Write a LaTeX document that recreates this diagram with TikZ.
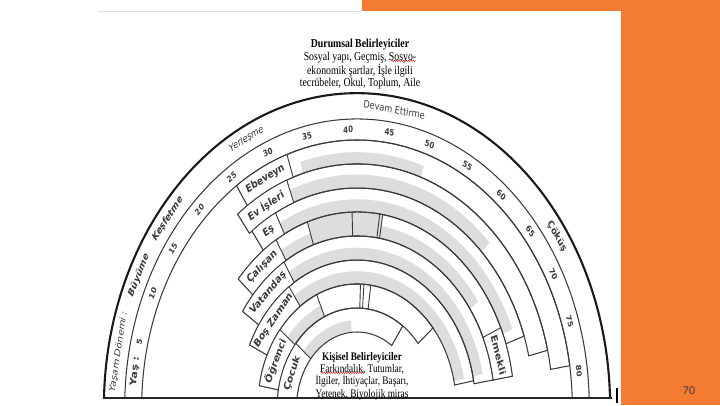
\documentclass[tikz,border=0pt]{standalone}
\usepackage{fontspec}
\setmainfont{Liberation Serif}
\newfontfamily\djv{DejaVu Sans}
\newfontfamily\crl{Carlito}
\usetikzlibrary{decorations.pathmorphing}
\definecolor{orng}{RGB}{244,123,50}
\definecolor{ink}{RGB}{58,58,58}
\definecolor{shadegray}{RGB}{221,221,221}
\tikzset{
  arcline/.style={draw=ink, line width=1.05pt},
  outerline/.style={draw=black!90, line width=2.1pt},
  rolelab/.style={font=\djv\bfseries\fontsize{8.8}{10}\selectfont, text=ink, inner sep=0pt},
  agelab/.style={font=\djv\bfseries\fontsize{7}{8}\selectfont, text=ink, inner sep=0pt},
  stagelab/.style={font=\djv\fontsize{8.2}{9}\selectfont, text=ink, inner sep=0pt},
  boxline/.style={draw=ink, line width=0.9pt, fill=white},
  shadefill/.style={fill=shadegray},
  spellmark/.style={draw=red!85!black, line width=0.4pt, decorate, decoration={snake, amplitude=0.7pt, segment length=2.4pt}},
}
% annular sector: [style] Rin Rout a b
\newcommand\annsec[5][]{%
  \path[#1] (#4:#2) arc[start angle=#4, end angle=#5, radius=#2] -- (#5:#3) arc[start angle=#5, end angle=#4, radius=#3] -- cycle;}
% text along the arc: name angle radius style text
\newcommand\alab[5]{%
  \pgfmathsetmacro\myrot{#2-90}%
  \node[#4, rotate=\myrot] (#1) at (#2:#3) {#5};}
% outline of a role band: Rin Rout start end
\newcommand\bandline[4]{%
  \draw[arcline] (#3:#1) -- (#3:#2) arc[start angle=#3, end angle=#4, radius=#2] -- (#4:#1) arc[start angle=#4, end angle=#3, radius=#1];}
% label box: name Rin Rout start end textangle text
\newcommand\labbox[7]{%
  \annsec[boxline]{#2}{#3}{#4}{#5}%
  \pgfmathsetmacro\myrad{(#2+#3)/2}%
  \alab{#1}{#6}{\myrad}{rolelab}{#7}}
% divider inside a band: Rin Rout angle
\newcommand\divider[3]{\draw[arcline, line width=0.9pt] (#3:#1) -- (#3:#2);}

\begin{document}
\begin{tikzpicture}[x=1pt,y=1pt]
\useasboundingbox (0,0) rectangle (720,405);
\fill[white] (0,0) rectangle (720,405);
% slide decoration
\fill[orng] (621,0) rectangle (720,405);
\fill[orng] (362,394) rectangle (621,405);
\draw[black!12, line width=0.6pt] (98,394) -- (362,394);
\node[font=\crl\fontsize{12}{14}\selectfont, text=black!75] (pnum) at (689,14) {70};
\coordinate (tickt) at (617,17);
\coordinate (tickb) at (617,2);
\draw[black, line width=1.8pt] (tickt) -- (tickb);

% rainbow
\begin{scope}
\clip (0,7.5) rectangle (720,405);
\begin{scope}[shift={(357,-2)}, yscale=1.24, transform shape]
  % shading (involvement in each role)
  \annsec[shadefill]{196.5}{205.5}{106}{71}
  \annsec[shadefill]{177.1}{187.5}{111}{45}
  \annsec[shadefill]{157.8}{167.5}{117.5}{22}
  \annsec[shadefill]{138.4}{147.5}{121}{108.4}
  \annsec[shadefill]{138.4}{157}{108.4}{80.6}
  \annsec[shadefill]{138.4}{148}{80.6}{35}
  \annsec[shadefill]{119}{128.5}{122}{12}
  \annsec[shadefill]{99.7}{109.5}{125}{12}
  \annsec[shadefill]{80.3}{89.5}{141}{114}
  \annsec[shadefill]{61}{70}{140}{95}
  % life stage and age bands
  \draw[outerline] (0:253.1) arc[start angle=0, end angle=180, radius=253.1];
  \draw[arcline] (0:232.3) arc[start angle=0, end angle=180, radius=232.3];
  \draw[arcline] (0:215.3) arc[start angle=0, end angle=180, radius=215.3];
  % role bands
  \bandline{196.0}{215.3}{124}{8.9}
  \bandline{176.6}{196.0}{127.5}{13.5}
  \bandline{157.3}{176.6}{126.5}{18.9}
  \bandline{137.9}{157.3}{139}{9.1}
  \bandline{118.5}{137.9}{146}{9.1}
  \bandline{99.2}{118.5}{155}{10.3}
  \bandline{79.8}{99.2}{170}{40}
  \bandline{60.5}{79.8}{178}{55}
  % breaks
  \divider{137.9}{157.3}{108.4}
  \divider{137.9}{157.3}{91.8}
  \divider{137.9}{157.3}{81.7}
  \divider{137.9}{157.3}{80.6}
  \divider{79.8}{99.2}{114}
  \divider{79.8}{99.2}{88}
  \divider{79.8}{99.2}{86}
  \divider{79.8}{99.2}{82}
  % role labels
  \labbox{ebeveyn}{196.0}{215.3}{124}{109}{116.5}{Ebeveyn}
  \labbox{evisleri}{176.6}{196.0}{127.5}{111}{119.3}{Ev İşleri}
  \labbox{es}{157.3}{176.6}{126.5}{117.5}{122}{Eş}
  \labbox{calisan}{137.9}{157.3}{139}{121}{130}{Çalışan}
  \labbox{vatandas}{118.5}{137.9}{146}{122}{134}{Vatandaş}
  \labbox{boszaman}{99.2}{118.5}{155}{125}{140}{Boş Zaman}
  \labbox{ogrenci}{79.8}{99.2}{170}{141}{155.5}{Öğrenci}
  \labbox{cocuk}{60.5}{79.8}{176}{140}{157.5}{Çocuk}
  \labbox{emekli}{137.9}{157.3}{24}{9.1}{16.5}{Emekli}
  % ages
  \alab{yas}{172.6}{223.8}{agelab, font=\djv\bfseries\fontsize{9}{10}\selectfont}{Yaş :}
  \foreach \a in {5,10,...,80}{%
    \pgfmathsetmacro\th{177.1-2.121*\a}%
    \alab{age\a}{\th}{223.8}{agelab}{\a}}
  % life stages
  \alab{yasam}{169.4}{242.7}{stagelab, font=\djv\itshape\fontsize{8.2}{9}\selectfont}{Yaşam Dönemi :}
  \alab{buyume}{154}{242.7}{stagelab, font=\djv\bfseries\itshape\fontsize{8.2}{9}\selectfont}{Büyüme}
  \alab{kesfetme}{141.3}{242.7}{stagelab, font=\djv\bfseries\itshape\fontsize{8.2}{9}\selectfont}{Keşfetme}
  \alab{yerlesme}{117.1}{242.7}{stagelab, font=\djv\itshape\fontsize{8.2}{9}\selectfont}{Yerleşme}
  \alab{devam}{81.2}{242.7}{stagelab}{Devam Ettirme}
  \alab{cokus}{34.5}{242.7}{stagelab, font=\djv\bfseries\fontsize{8.2}{9}\selectfont}{Çöküş}
\end{scope}
\end{scope}
\coordinate (baseL) at (103,7.5);
\coordinate (baseR) at (612,7.5);
\draw[black!85, line width=2pt] (baseL) -- (baseR);

% texts
\node[yscale=1.24, align=center, font=\fontsize{9.8}{10.1}\selectfont, inner sep=0pt] (durumsal) at (360,340.5)
  {\textbf{Durumsal Belirleyiciler}\\ Sosyal yapı, Geçmiş, Sosyo-\\ ekonomik şartlar, İşle ilgili\\ tecrübeler, Okul, Toplum, Aile};
\node[yscale=1.24, align=center, font=\fontsize{9.3}{9.9}\selectfont, inner sep=0pt] (kisisel) at (362,29)
  {\textbf{Kişisel Belirleyiciler}\\ Farkındalık, Tutumlar,\\ İlgiler, İhtiyaçlar, Başarı,\\ Yetenek, Biyolojik miras};
% spell-check marks seen in the reference
\coordinate (sq1a) at (391,344.2);
\coordinate (sq1b) at (416,344.2);
\coordinate (sq2a) at (321,32.2);
\coordinate (sq2b) at (364,32.2);
\draw[spellmark] (sq1a) -- (sq1b);
\draw[spellmark] (sq2a) -- (sq2b);
\end{tikzpicture}
\end{document}
